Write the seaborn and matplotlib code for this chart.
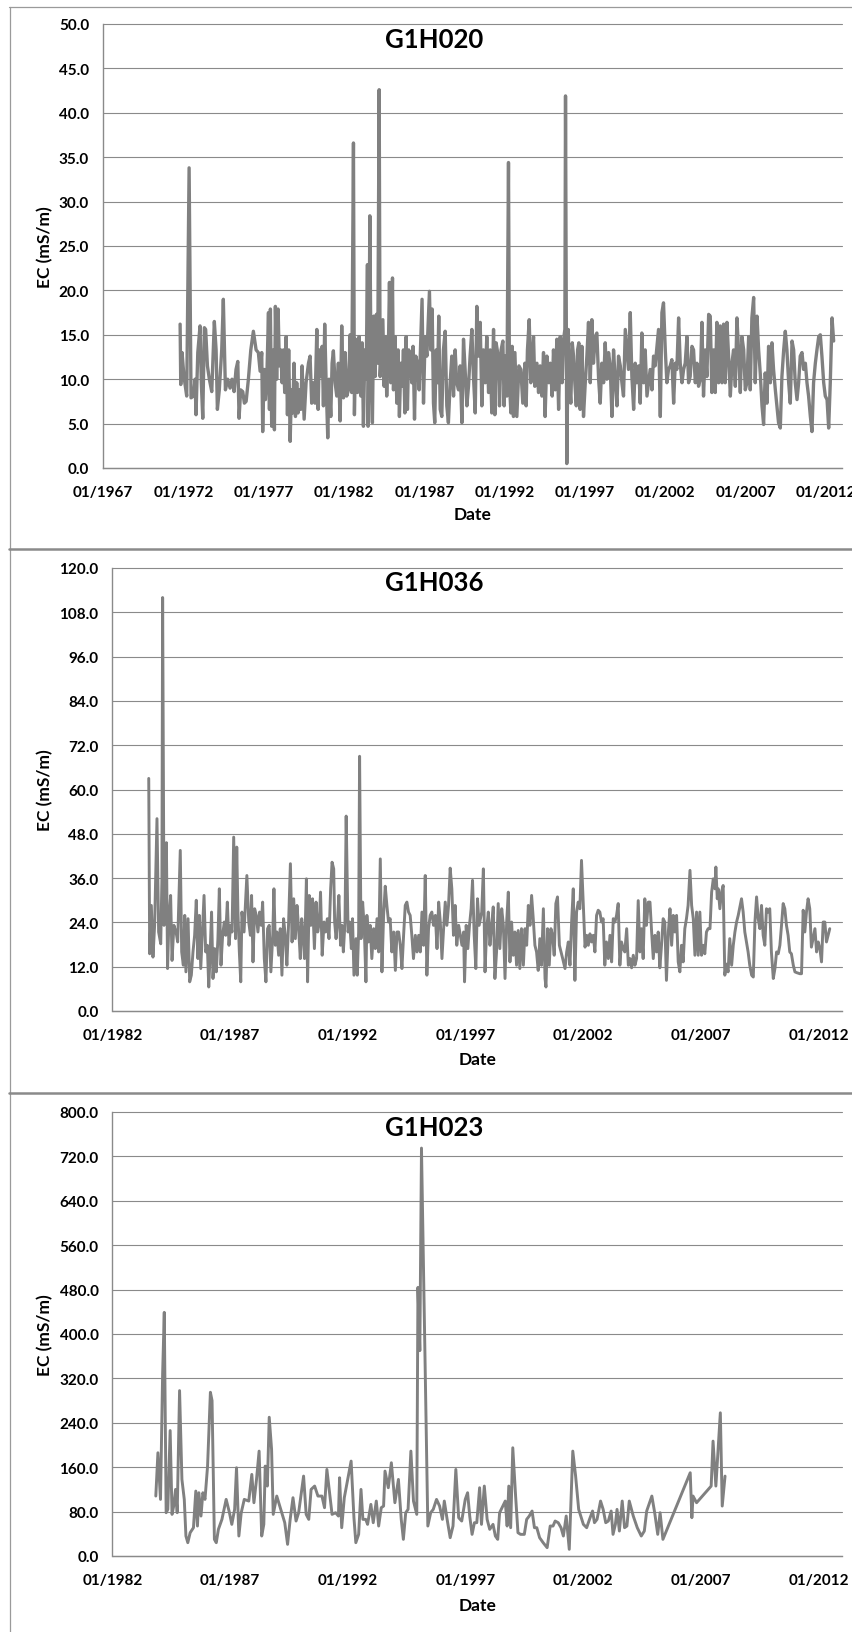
import matplotlib
matplotlib.use("Agg")
import matplotlib.pyplot as plt
import seaborn as sns
from matplotlib.lines import Line2D

# ---------------- data ----------------
g1h020_year = [
    1971.80, 1971.84, 1971.92, 1972.04, 1972.21, 1972.36, 1972.48, 1972.63, 1972.73, 1972.79,
    1972.90, 1973.04, 1973.12, 1973.21, 1973.31, 1973.39, 1973.50, 1973.62, 1973.77, 1973.93,
    1974.04, 1974.12, 1974.24, 1974.39, 1974.49, 1974.62, 1974.76, 1974.91, 1975.03, 1975.16,
    1975.28, 1975.39, 1975.47, 1975.57, 1975.70, 1975.80, 1975.91, 1976.05, 1976.20, 1976.36,
    1976.53, 1976.67, 1976.78, 1976.88, 1976.94, 1977.03, 1977.11, 1977.19, 1977.30, 1977.36,
    1977.42, 1977.50, 1977.61, 1977.67, 1977.73, 1977.81, 1977.90, 1977.98, 1978.06, 1978.15,
    1978.23, 1978.31, 1978.40, 1978.48, 1978.56, 1978.65, 1978.73, 1978.81, 1978.89, 1978.98,
    1979.06, 1979.14, 1979.23, 1979.31, 1979.39, 1979.52, 1979.64, 1979.79, 1979.89, 1979.99,
    1980.10, 1980.20, 1980.31, 1980.39, 1980.47, 1980.55, 1980.64, 1980.72, 1980.80, 1980.89,
    1980.99, 1981.07, 1981.18, 1981.26, 1981.34, 1981.45, 1981.55, 1981.65, 1981.76, 1981.86,
    1981.97, 1982.07, 1982.17, 1982.28, 1982.38, 1982.48, 1982.59, 1982.65, 1982.73, 1982.84,
    1982.94, 1983.05, 1983.13, 1983.21, 1983.30, 1983.38, 1983.46, 1983.50, 1983.56, 1983.61,
    1983.69, 1983.77, 1983.85, 1983.94, 1984.02, 1984.10, 1984.19, 1984.25, 1984.33, 1984.42,
    1984.50, 1984.58, 1984.66, 1984.77, 1984.83, 1984.91, 1985.02, 1985.08, 1985.18, 1985.29,
    1985.37, 1985.45, 1985.54, 1985.62, 1985.70, 1985.79, 1985.87, 1985.95, 1986.03, 1986.12,
    1986.22, 1986.30, 1986.39, 1986.47, 1986.57, 1986.68, 1986.86, 1986.95, 1987.05, 1987.16,
    1987.32, 1987.40, 1987.49, 1987.57, 1987.65, 1987.74, 1987.82, 1987.90, 1987.99, 1988.09,
    1988.19, 1988.30, 1988.40, 1988.50, 1988.61, 1988.71, 1988.82, 1988.92, 1989.02, 1989.13,
    1989.23, 1989.34, 1989.44, 1989.54, 1989.65, 1989.75, 1989.85, 1989.96, 1990.06, 1990.17,
    1990.27, 1990.37, 1990.48, 1990.58, 1990.68, 1990.79, 1990.89, 1991.00, 1991.10, 1991.20,
    1991.31, 1991.39, 1991.47, 1991.60, 1991.68, 1991.78, 1991.89, 1991.97, 1992.05, 1992.14,
    1992.24, 1992.30, 1992.39, 1992.47, 1992.55, 1992.64, 1992.76, 1992.89, 1993.01, 1993.13,
    1993.26, 1993.34, 1993.42, 1993.53, 1993.63, 1993.72, 1993.80, 1993.88, 1994.01, 1994.11,
    1994.21, 1994.32, 1994.42, 1994.52, 1994.63, 1994.75, 1994.84, 1994.96, 1995.04, 1995.15,
    1995.25, 1995.36, 1995.46, 1995.58, 1995.67, 1995.75, 1995.79, 1995.87, 1995.96, 1996.04,
    1996.12, 1996.21, 1996.29, 1996.37, 1996.46, 1996.54, 1996.62, 1996.70, 1996.81, 1996.91,
    1997.02, 1997.12, 1997.22, 1997.33, 1997.43, 1997.53, 1997.64, 1997.74, 1997.85, 1997.95,
    1998.05, 1998.16, 1998.26, 1998.36, 1998.47, 1998.57, 1998.68, 1998.78, 1998.88, 1998.99,
    1999.09, 1999.20, 1999.30, 1999.40, 1999.51, 1999.61, 1999.71, 1999.82, 1999.92, 2000.03,
    2000.13, 2000.23, 2000.34, 2000.44, 2000.54, 2000.65, 2000.75, 2000.86, 2000.96, 2001.06,
    2001.17, 2001.27, 2001.37, 2001.48, 2001.58, 2001.69, 2001.79, 2001.89, 2002.00, 2002.10,
    2002.20, 2002.31, 2002.41, 2002.52, 2002.62, 2002.72, 2002.83, 2002.93, 2003.04, 2003.14,
    2003.24, 2003.35, 2003.45, 2003.55, 2003.66, 2003.76, 2003.87, 2003.97, 2004.07, 2004.18,
    2004.28, 2004.38, 2004.49, 2004.59, 2004.70, 2004.80, 2004.90, 2005.01, 2005.11, 2005.21,
    2005.32, 2005.42, 2005.53, 2005.63, 2005.73, 2005.84, 2005.94, 2006.05, 2006.15, 2006.25,
    2006.36, 2006.46, 2006.56, 2006.67, 2006.77, 2006.88, 2006.98, 2007.08, 2007.19, 2007.29,
    2007.39, 2007.50, 2007.60, 2007.71, 2007.81, 2007.91, 2008.02, 2008.12, 2008.22, 2008.33,
    2008.43, 2008.54, 2008.64, 2008.74, 2008.85, 2008.95, 2009.05, 2009.16, 2009.26, 2009.37,
    2009.47, 2009.57, 2009.68, 2009.78, 2009.89, 2009.99, 2010.09, 2010.20, 2010.30, 2010.40,
    2010.51, 2010.61, 2010.72, 2010.82, 2010.92, 2011.03, 2011.13, 2011.23, 2011.34, 2011.44,
    2011.55, 2011.65, 2011.75, 2011.86, 2011.96, 2012.07, 2012.17, 2012.27, 2012.38, 2012.48,
]
g1h020_ec = [
    16.2, 9.4, 13.0, 10.3, 8.1, 33.8, 7.9, 8.1, 10.0, 6.0,
    13.0, 16.0, 9.6, 5.6, 15.8, 15.6, 11.5, 10.0, 8.6, 16.5,
    13.3, 6.6, 8.8, 13.3, 19.0, 8.8, 10.0, 9.0, 10.0, 8.6,
    11.1, 12.0, 5.6, 8.8, 8.6, 7.3, 7.5, 10.0, 13.3, 15.4,
    13.3, 13.0, 10.9, 13.0, 4.1, 11.1, 7.7, 9.6, 17.5, 6.6,
    17.9, 4.7, 13.3, 4.3, 18.2, 10.0, 17.9, 11.5, 13.3, 9.6,
    13.3, 8.5, 14.8, 6.0, 13.3, 3.0, 8.8, 6.2, 11.8, 5.8,
    9.6, 6.2, 8.8, 6.6, 11.5, 5.5, 9.6, 11.8, 12.6, 7.3,
    9.6, 7.3, 15.6, 6.6, 13.3, 10.3, 13.7, 7.0, 16.2, 9.6,
    3.4, 10.0, 5.8, 11.8, 13.2, 9.6, 8.1, 11.8, 5.3, 16.0,
    7.9, 13.0, 8.1, 8.8, 15.0, 8.5, 36.6, 6.0, 14.5, 8.5,
    14.8, 8.1, 14.1, 4.7, 13.3, 10.0, 22.9, 4.7, 13.3, 28.4,
    9.6, 5.1, 17.1, 10.3, 17.3, 11.8, 42.6, 10.3, 13.3, 16.7,
    9.2, 14.8, 8.1, 14.1, 20.9, 9.6, 21.4, 8.8, 14.8, 7.3,
    13.3, 5.8, 11.8, 9.2, 13.3, 6.2, 14.8, 6.6, 13.3, 12.6,
    9.6, 13.7, 5.5, 12.6, 11.8, 8.8, 19.0, 7.3, 14.8, 12.6,
    19.9, 13.3, 17.9, 7.3, 5.1, 13.3, 9.6, 17.1, 6.6, 5.8,
    13.3, 15.4, 7.0, 5.1, 9.6, 12.6, 8.1, 13.3, 9.6, 8.8,
    11.5, 5.1, 14.5, 11.1, 7.0, 9.2, 12.6, 15.6, 10.3, 6.2,
    18.2, 12.6, 16.4, 7.0, 13.3, 9.6, 14.8, 8.5, 13.3, 6.2,
    15.6, 6.0, 14.1, 12.6, 7.0, 13.3, 14.3, 7.0, 12.6, 8.1,
    34.4, 9.6, 6.2, 13.7, 5.8, 13.0, 5.8, 11.5, 11.1, 7.3,
    11.8, 7.0, 13.3, 16.7, 9.6, 12.6, 14.8, 9.2, 11.8, 8.5,
    11.5, 8.1, 13.0, 5.8, 12.6, 9.6, 11.8, 8.1, 13.3, 8.8,
    14.5, 6.6, 14.8, 9.6, 14.5, 15.6, 41.9, 0.5, 15.6, 9.6,
    7.3, 14.1, 12.6, 9.6, 7.0, 13.3, 14.1, 6.6, 13.7, 5.8,
    9.6, 12.6, 16.4, 9.6, 16.7, 11.8, 14.8, 15.2, 10.0, 7.3,
    11.8, 9.6, 14.1, 10.0, 13.0, 11.5, 5.8, 13.3, 10.0, 7.0,
    12.6, 11.5, 9.6, 8.1, 15.6, 13.3, 11.1, 17.5, 10.3, 6.6,
    11.8, 9.6, 11.5, 7.3, 15.2, 9.6, 13.3, 8.1, 9.6, 11.1,
    8.8, 12.6, 11.5, 13.7, 15.6, 5.8, 17.5, 18.6, 13.3, 9.6,
    11.1, 11.5, 12.2, 7.3, 11.8, 11.1, 16.9, 11.8, 9.6, 11.1,
    11.8, 14.8, 9.6, 10.3, 13.7, 13.3, 9.6, 11.8, 9.2, 10.0,
    16.4, 8.1, 13.3, 10.3, 17.3, 17.1, 8.5, 13.3, 8.5, 16.4,
    9.6, 16.0, 9.6, 16.2, 9.6, 16.4, 12.6, 8.1, 11.8, 13.3,
    9.2, 16.9, 13.3, 8.5, 14.8, 13.3, 8.8, 9.6, 14.8, 8.8,
    16.9, 19.2, 9.6, 17.1, 13.3, 10.7, 7.0, 4.9, 10.7, 7.3,
    13.7, 9.6, 14.1, 11.1, 8.8, 7.0, 5.1, 4.5, 10.3, 13.3,
    15.4, 13.3, 9.6, 7.3, 14.3, 13.3, 9.6, 7.7, 9.6, 12.6,
    13.0, 11.1, 11.8, 9.6, 8.1, 5.8, 4.1, 9.6, 11.8, 13.3,
    14.8, 15.0, 12.6, 9.6, 8.1, 7.7, 4.5, 9.6, 16.9, 14.3,
]

g1h036_year = [
    1983.54, 1983.58, 1983.65, 1983.72, 1983.79, 1983.89, 1983.96, 1984.05, 1984.10, 1984.13,
    1984.19, 1984.25, 1984.29, 1984.34, 1984.40, 1984.47, 1984.53, 1984.61, 1984.70, 1984.77,
    1984.88, 1984.94, 1985.01, 1985.07, 1985.12, 1985.21, 1985.28, 1985.35, 1985.42, 1985.49,
    1985.56, 1985.63, 1985.69, 1985.75, 1985.82, 1985.89, 1985.96, 1986.03, 1986.09, 1986.14,
    1986.21, 1986.27, 1986.34, 1986.41, 1986.48, 1986.54, 1986.61, 1986.68, 1986.75, 1986.81,
    1986.88, 1986.95, 1987.02, 1987.08, 1987.15, 1987.23, 1987.28, 1987.33, 1987.39, 1987.45,
    1987.50, 1987.59, 1987.71, 1987.79, 1987.86, 1987.91, 1987.97, 1988.04, 1988.11, 1988.18,
    1988.25, 1988.32, 1988.38, 1988.45, 1988.52, 1988.59, 1988.66, 1988.73, 1988.81, 1988.86,
    1988.92, 1988.99, 1989.06, 1989.13, 1989.20, 1989.27, 1989.34, 1989.41, 1989.48, 1989.56,
    1989.63, 1989.70, 1989.77, 1989.84, 1989.91, 1989.98, 1990.04, 1990.11, 1990.16, 1990.24,
    1990.29, 1990.36, 1990.43, 1990.50, 1990.58, 1990.65, 1990.72, 1990.79, 1990.84, 1990.91,
    1990.99, 1991.06, 1991.13, 1991.20, 1991.27, 1991.33, 1991.40, 1991.44, 1991.50, 1991.55,
    1991.62, 1991.69, 1991.75, 1991.81, 1991.88, 1991.93, 1992.01, 1992.08, 1992.15, 1992.20,
    1992.26, 1992.35, 1992.40, 1992.46, 1992.50, 1992.56, 1992.63, 1992.70, 1992.77, 1992.81,
    1992.88, 1992.95, 1993.02, 1993.10, 1993.17, 1993.24, 1993.31, 1993.38, 1993.45, 1993.52,
    1993.59, 1993.66, 1993.73, 1993.80, 1993.87, 1993.95, 1994.02, 1994.09, 1994.16, 1994.23,
    1994.30, 1994.37, 1994.44, 1994.51, 1994.58, 1994.65, 1994.72, 1994.79, 1994.87, 1994.94,
    1995.01, 1995.08, 1995.15, 1995.22, 1995.29, 1995.36, 1995.43, 1995.50, 1995.57, 1995.64,
    1995.72, 1995.79, 1995.86, 1995.93, 1996.00, 1996.07, 1996.14, 1996.21, 1996.28, 1996.35,
    1996.42, 1996.49, 1996.56, 1996.63, 1996.71, 1996.78, 1996.85, 1996.92, 1996.96, 1997.03,
    1997.10, 1997.17, 1997.24, 1997.30, 1997.37, 1997.44, 1997.51, 1997.58, 1997.69, 1997.76,
    1997.83, 1997.90, 1997.97, 1998.04, 1998.11, 1998.18, 1998.25, 1998.32, 1998.39, 1998.46,
    1998.54, 1998.61, 1998.68, 1998.75, 1998.82, 1998.89, 1998.96, 1999.03, 1999.10, 1999.17,
    1999.24, 1999.31, 1999.38, 1999.46, 1999.53, 1999.60, 1999.67, 1999.74, 1999.81, 1999.88,
    1999.95, 2000.02, 2000.09, 2000.16, 2000.23, 2000.31, 2000.38, 2000.42, 2000.49, 2000.56,
    2000.63, 2000.70, 2000.77, 2000.84, 2000.91, 2000.99, 2001.06, 2001.13, 2001.23, 2001.30,
    2001.37, 2001.44, 2001.51, 2001.58, 2001.65, 2001.72, 2001.79, 2001.86, 2001.93, 2002.00,
    2002.08, 2002.15, 2002.22, 2002.29, 2002.36, 2002.43, 2002.50, 2002.57, 2002.64, 2002.71,
    2002.78, 2002.85, 2002.92, 2002.99, 2003.07, 2003.14, 2003.21, 2003.28, 2003.35, 2003.42,
    2003.49, 2003.56, 2003.63, 2003.70, 2003.77, 2003.85, 2003.92, 2003.99, 2004.06, 2004.13,
    2004.20, 2004.27, 2004.34, 2004.41, 2004.48, 2004.55, 2004.62, 2004.69, 2004.77, 2004.84,
    2004.91, 2004.98, 2005.05, 2005.12, 2005.19, 2005.26, 2005.33, 2005.40, 2005.47, 2005.54,
    2005.62, 2005.69, 2005.76, 2005.83, 2005.90, 2005.97, 2006.04, 2006.11, 2006.18, 2006.25,
    2006.32, 2006.39, 2006.46, 2006.54, 2006.61, 2006.68, 2006.75, 2006.82, 2006.89, 2006.96,
    2007.03, 2007.10, 2007.17, 2007.24, 2007.31, 2007.39, 2007.46, 2007.53, 2007.60, 2007.64,
    2007.70, 2007.74, 2007.81, 2007.88, 2007.95, 2008.02, 2008.09, 2008.16, 2008.23, 2008.31,
    2008.38, 2008.45, 2008.52, 2008.59, 2008.66, 2008.73, 2008.80, 2008.87, 2008.94, 2009.01,
    2009.08, 2009.16, 2009.23, 2009.30, 2009.37, 2009.44, 2009.51, 2009.58, 2009.65, 2009.72,
    2009.79, 2009.86, 2009.93, 2010.00, 2010.08, 2010.15, 2010.22, 2010.29, 2010.36, 2010.43,
    2010.50, 2010.57, 2010.64, 2010.71, 2010.78, 2010.85, 2010.93, 2011.00, 2011.07, 2011.21,
    2011.28, 2011.35, 2011.42, 2011.49, 2011.56, 2011.63, 2011.70, 2011.77, 2011.85, 2011.92,
    2011.99, 2012.06, 2012.13, 2012.20, 2012.27, 2012.34, 2012.41, 2012.48,
]
g1h036_ec = [
    63.0, 15.5, 28.6, 14.6, 23.2, 52.1, 21.4, 18.2, 35.8, 112.0,
    23.2, 27.7, 45.6, 11.5, 25.0, 31.3, 13.7, 23.2, 21.4, 18.7,
    43.5, 16.0, 12.4, 25.9, 10.6, 25.0, 7.9, 9.7, 16.0, 20.5,
    30.0, 14.2, 25.9, 11.5, 21.4, 31.3, 16.0, 17.8, 6.5, 14.2,
    26.8, 8.8, 16.9, 10.6, 19.6, 33.1, 12.4, 20.5, 24.1, 20.5,
    29.5, 17.8, 23.2, 21.4, 47.1, 19.6, 44.4, 26.8, 16.0, 7.9,
    26.8, 21.4, 36.7, 24.1, 20.5, 31.3, 13.3, 27.7, 25.9, 21.4,
    26.8, 23.2, 29.5, 14.2, 7.9, 22.3, 23.2, 10.6, 20.5, 33.1,
    17.8, 21.4, 15.1, 22.3, 9.7, 25.0, 20.5, 12.4, 23.2, 39.9,
    18.7, 30.4, 19.6, 28.6, 22.3, 14.2, 25.0, 19.6, 14.2, 35.8,
    7.9, 31.3, 23.2, 30.4, 16.9, 29.5, 21.4, 24.1, 32.2, 15.1,
    24.1, 21.4, 25.0, 19.6, 33.1, 40.3, 38.5, 24.1, 19.6, 23.2,
    31.3, 17.8, 23.2, 16.0, 24.1, 52.8, 21.4, 24.1, 16.9, 25.0,
    9.7, 19.6, 9.7, 21.4, 69.0, 19.6, 29.5, 22.3, 7.9, 25.9,
    18.7, 23.2, 14.2, 22.3, 16.9, 25.0, 16.0, 41.2, 10.6, 25.9,
    33.8, 28.6, 24.1, 25.0, 16.0, 21.4, 11.0, 21.4, 21.4, 17.8,
    11.5, 20.5, 28.6, 29.5, 26.8, 25.9, 20.5, 14.2, 20.5, 16.0,
    20.5, 16.0, 26.8, 17.8, 36.7, 9.7, 22.3, 25.9, 26.8, 23.2,
    25.9, 16.9, 29.5, 24.1, 14.2, 22.3, 29.5, 23.2, 28.6, 38.7,
    33.1, 20.5, 28.6, 17.8, 23.2, 20.5, 17.8, 21.4, 7.9, 23.2,
    16.9, 23.2, 27.7, 35.4, 20.5, 11.5, 30.4, 23.2, 26.8, 38.5,
    10.6, 22.3, 26.8, 17.8, 23.2, 28.2, 8.8, 16.0, 29.1, 16.9,
    27.7, 23.2, 8.8, 24.1, 32.2, 13.3, 24.1, 15.1, 21.4, 12.4,
    21.8, 11.5, 22.3, 12.4, 22.3, 17.8, 28.6, 23.2, 31.3, 25.0,
    17.8, 16.0, 11.0, 19.6, 12.4, 27.7, 8.8, 6.5, 22.3, 12.4,
    22.3, 20.5, 15.1, 29.1, 30.9, 17.8, 16.0, 14.2, 11.5, 16.0,
    18.7, 12.4, 24.1, 33.1, 8.3, 26.8, 29.5, 27.7, 40.8, 29.5,
    17.3, 20.5, 17.8, 20.9, 18.7, 20.5, 16.0, 25.9, 27.3, 26.8,
    24.1, 25.0, 12.4, 18.7, 14.2, 20.5, 13.3, 25.0, 24.1, 25.9,
    29.1, 12.4, 18.7, 16.9, 16.0, 22.3, 12.4, 14.2, 11.7, 15.1,
    12.4, 14.2, 29.9, 16.0, 22.3, 14.2, 30.4, 23.2, 29.5, 29.5,
    21.4, 14.2, 20.5, 16.0, 21.4, 11.7, 17.8, 25.0, 24.1, 8.3,
    21.4, 27.7, 17.8, 25.9, 21.4, 25.9, 13.3, 10.6, 17.8, 13.3,
    22.3, 25.0, 28.6, 38.1, 28.6, 25.0, 15.1, 26.8, 15.1, 26.8,
    15.1, 17.8, 15.5, 21.4, 22.3, 22.3, 32.2, 35.8, 33.1, 39.0,
    30.4, 33.1, 27.7, 32.2, 34.0, 9.7, 12.7, 10.6, 19.6, 12.4,
    17.8, 21.4, 24.1, 25.9, 28.2, 30.4, 26.8, 21.4, 18.7, 16.0,
    12.4, 9.7, 9.2, 24.1, 30.9, 25.0, 22.3, 28.6, 20.5, 17.8,
    27.7, 26.8, 27.7, 16.0, 8.8, 11.5, 16.0, 15.5, 17.8, 23.2,
    29.1, 27.7, 23.2, 20.5, 16.0, 15.5, 12.4, 10.6, 10.4, 10.1,
    10.1, 27.3, 21.4, 26.8, 30.4, 27.7, 17.3, 19.6, 22.3, 16.0,
    18.7, 16.9, 13.3, 24.1, 24.1, 18.7, 20.5, 22.3,
]

g1h023_year = [
    1983.84, 1983.93, 1984.04, 1984.13, 1984.20, 1984.28, 1984.35, 1984.45, 1984.53, 1984.60,
    1984.68, 1984.75, 1984.85, 1984.95, 1985.05, 1985.12, 1985.20, 1985.30, 1985.44, 1985.54,
    1985.61, 1985.67, 1985.76, 1985.84, 1985.93, 1986.04, 1986.16, 1986.23, 1986.33, 1986.41,
    1986.50, 1986.65, 1986.83, 1986.97, 1987.07, 1987.19, 1987.27, 1987.37, 1987.47, 1987.60,
    1987.79, 1987.92, 1988.01, 1988.12, 1988.23, 1988.34, 1988.43, 1988.49, 1988.58, 1988.66,
    1988.76, 1988.83, 1988.98, 1989.15, 1989.32, 1989.44, 1989.55, 1989.67, 1989.80, 1989.91,
    1990.12, 1990.23, 1990.34, 1990.44, 1990.59, 1990.73, 1990.90, 1991.01, 1991.11, 1991.33,
    1991.48, 1991.60, 1991.65, 1991.74, 1991.85, 1992.14, 1992.26, 1992.34, 1992.46, 1992.56,
    1992.64, 1992.76, 1992.84, 1992.98, 1993.08, 1993.21, 1993.31, 1993.42, 1993.52, 1993.58,
    1993.72, 1993.85, 1994.00, 1994.15, 1994.27, 1994.36, 1994.46, 1994.56, 1994.68, 1994.79,
    1994.93, 1994.98, 1995.06, 1995.13, 1995.40, 1995.52, 1995.63, 1995.77, 1995.90, 1996.02,
    1996.10, 1996.22, 1996.35, 1996.47, 1996.59, 1996.71, 1996.84, 1996.99, 1997.09, 1997.18,
    1997.28, 1997.38, 1997.48, 1997.60, 1997.68, 1997.80, 1997.92, 1998.03, 1998.17, 1998.27,
    1998.37, 1998.45, 1998.59, 1998.69, 1998.77, 1998.84, 1998.92, 1999.01, 1999.13, 1999.23,
    1999.34, 1999.50, 1999.60, 1999.71, 1999.83, 1999.93, 2000.03, 2000.15, 2000.30, 2000.47,
    2000.60, 2000.72, 2000.81, 2000.94, 2001.06, 2001.16, 2001.28, 2001.41, 2001.56, 2001.68,
    2001.81, 2002.01, 2002.15, 2002.27, 2002.40, 2002.48, 2002.59, 2002.74, 2002.85, 2002.96,
    2003.07, 2003.19, 2003.27, 2003.37, 2003.44, 2003.54, 2003.66, 2003.76, 2003.86, 2003.96,
    2004.13, 2004.30, 2004.47, 2004.60, 2004.70, 2004.80, 2004.92, 2005.04, 2005.17, 2005.27,
    2005.39, 2006.55, 2006.62, 2006.67, 2006.82, 2007.44, 2007.52, 2007.64, 2007.83, 2007.91,
    2008.03,
]
g1h023_ec = [
    108, 186, 102, 328, 439, 78, 84, 226, 75, 90,
    120, 78, 298, 138, 102, 36, 24, 42, 51, 117,
    54, 114, 72, 114, 102, 162, 295, 280, 30, 24,
    48, 66, 102, 78, 57, 84, 159, 36, 78, 102,
    99, 147, 96, 138, 189, 36, 57, 162, 126, 250,
    192, 75, 108, 84, 60, 21, 66, 105, 63, 78,
    144, 75, 66, 120, 126, 108, 108, 87, 156, 75,
    78, 72, 141, 51, 105, 171, 69, 24, 39, 120,
    66, 66, 57, 93, 60, 99, 54, 87, 90, 153,
    123, 168, 96, 138, 66, 30, 78, 84, 189, 99,
    75, 484, 370, 735, 54, 78, 84, 102, 90, 66,
    99, 66, 33, 54, 156, 69, 63, 102, 114, 72,
    39, 60, 60, 123, 57, 126, 66, 48, 57, 36,
    30, 78, 90, 99, 54, 126, 51, 195, 108, 42,
    39, 39, 66, 72, 81, 51, 51, 33, 24, 15,
    54, 54, 63, 60, 51, 36, 72, 12, 189, 144,
    84, 57, 51, 66, 81, 60, 66, 99, 84, 60,
    63, 81, 39, 57, 84, 45, 99, 51, 54, 99,
    72, 51, 36, 45, 81, 93, 108, 78, 39, 78,
    30, 150, 69, 108, 96, 126, 207, 126, 258, 90,
    144,
]

station_names = ["G1H020", "G1H036", "G1H023"]
x_ticks_g1h020 = [1967, 1972, 1977, 1982, 1987, 1992, 1997, 2002, 2007, 2012]
x_ticks_g1h036 = [1982, 1987, 1992, 1997, 2002, 2007, 2012]
x_ticks_g1h023 = [1982, 1987, 1992, 1997, 2002, 2007, 2012]
y_ticks_g1h020 = [0, 5, 10, 15, 20, 25, 30, 35, 40, 45, 50]
y_ticks_g1h036 = [0, 12, 24, 36, 48, 60, 72, 84, 96, 108, 120]
y_ticks_g1h023 = [0, 80, 160, 240, 320, 400, 480, 560, 640, 720, 800]
x_axis_end = 2013.0

# ---------------- style ----------------
sns.set_style("white")
plt.rcParams['font.family'] = ['Lato', 'DejaVu Sans']
plt.rcParams['font.weight'] = 'bold'

W, H = 852, 1633
fig = plt.figure(figsize=(W / 100, H / 100), dpi=100)
fig.patch.set_facecolor("white")

LINE = "#808080"
GRID = "#8a8a8a"

def fx(px):
    return px / W

def fy(py):
    return 1 - py / H

panels = [
    dict(name=station_names[0], x=g1h020_year, y=g1h020_ec, xt=x_ticks_g1h020,
         yt=y_ticks_g1h020, left=103, top=25, bottom=469, lw=2.4,
         title_y=40, date_y=515),
    dict(name=station_names[1], x=g1h036_year, y=g1h036_ec, xt=x_ticks_g1h036,
         yt=y_ticks_g1h036, left=112.5, top=569, bottom=1012, lw=2.1,
         title_y=583, date_y=1060),
    dict(name=station_names[2], x=g1h023_year, y=g1h023_ec, xt=x_ticks_g1h023,
         yt=y_ticks_g1h023, left=112.5, top=1113, bottom=1557, lw=2.1,
         title_y=1128, date_y=1606),
]

RIGHT = 842
for p in panels:
    ax = fig.add_axes([fx(p["left"]), fy(p["bottom"]),
                       fx(RIGHT - p["left"]), (p["bottom"] - p["top"]) / H])
    ax.set_axisbelow(True)
    sns.lineplot(x=p["x"], y=p["y"], ax=ax, color=LINE, linewidth=p["lw"],
                 estimator=None, sort=False, solid_joinstyle="round",
                 solid_capstyle="round")
    ax.set_xlim(p["xt"][0], x_axis_end)
    ax.set_ylim(p["yt"][0], p["yt"][-1])
    ax.set_xticks(p["xt"])
    ax.set_xticklabels([f"01/{y}" for y in p["xt"]])
    ax.set_yticks(p["yt"])
    ax.set_yticklabels([f"{v:.1f}" for v in p["yt"]])
    ax.set_xlabel("")
    ax.set_ylabel("")
    ax.yaxis.grid(True, color=GRID, linewidth=0.8)
    ax.xaxis.grid(False)
    for gl in ax.get_ygridlines():
        gl.set_clip_on(False)
    for s in ["top", "right"]:
        ax.spines[s].set_visible(False)
    for s in ["left", "bottom"]:
        ax.spines[s].set_color(GRID)
        ax.spines[s].set_linewidth(1.0)
    ax.tick_params(axis="both", direction="out", length=4, width=0.8,
                   color=GRID, labelsize=11, labelcolor="black")
    ax.tick_params(axis="y", pad=6)
    ax.tick_params(axis="x", pad=8)
    for lab in ax.get_xticklabels() + ax.get_yticklabels():
        lab.set_fontweight("bold")

    fig.text(fx(434), fy(p["title_y"]), p["name"], ha="center", va="center",
             fontsize=18.5, fontweight="bold", color="black")
    fig.text(fx((p["left"] + RIGHT) / 2), fy(p["date_y"]), "Date", ha="center",
             va="center", fontsize=12.5, fontweight="bold", color="black")
    fig.text(fx(45), fy((p["top"] + p["bottom"]) / 2), "EC (mS/m)", ha="center",
             va="center", rotation=90, fontsize=12.5, fontweight="bold", color="black")

# chart-area borders
border_kw = dict(transform=fig.transFigure, color="#9a9a9a", linewidth=0.9)
fig.add_artist(Line2D([fx(9), 1], [fy(7.5), fy(7.5)], **border_kw))
fig.add_artist(Line2D([fx(9.5), fx(9.5)], [fy(7.5), 0], **border_kw))
for sep in (549.5, 1093.5):
    fig.add_artist(Line2D([fx(9), 1], [fy(sep), fy(sep)], transform=fig.transFigure,
                          color="#8a8a8a", linewidth=1.8))

fig.savefig("out.png", dpi=100, facecolor="white")
